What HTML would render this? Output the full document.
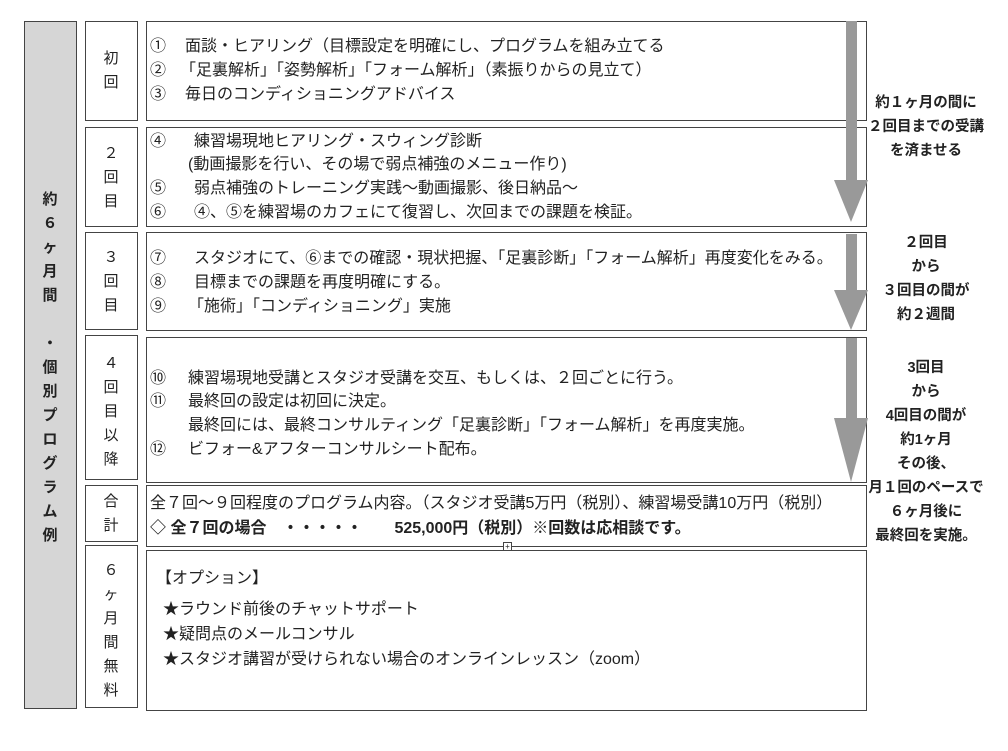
<!DOCTYPE html>
<html><head><meta charset="utf-8">
<style>
body{margin:0;width:1008px;height:751px;background:#fff;position:relative;overflow:hidden;font-family:"Liberation Sans","Noto Sans CJK JP",sans-serif;color:#222;}
.b{position:absolute;border:1px solid #444;box-sizing:border-box;background:#fff;}
.t{position:absolute;font-size:16px;white-space:nowrap;line-height:18px;}
.c{position:absolute;font-size:15px;text-align:center;width:52px;line-height:24px;}
.r{position:absolute;left:866px;width:120px;text-align:center;font-weight:bold;font-size:14.5px;line-height:24px;}
.bold{font-weight:bold;}
</style></head><body>
<div class="b" style="left:24px;top:21px;width:53px;height:688px;background:#d6d6d6;"></div>
<div class="c bold" style="left:24px;top:188px;line-height:24px;">約<br>６<br>ヶ<br>月<br>間<br><br>・<br>個<br>別<br>プ<br>ロ<br>グ<br>ラ<br>ム<br>例</div>

<div class="b" style="left:85px;top:21px;width:53px;height:100px;"></div>
<div class="c" style="left:85px;top:47px;">初<br>回</div>
<div class="b" style="left:85px;top:127px;width:53px;height:100px;"></div>
<div class="c" style="left:85px;top:142px;">２<br>回<br>目</div>
<div class="b" style="left:85px;top:232px;width:53px;height:98px;"></div>
<div class="c" style="left:85px;top:246px;">３<br>回<br>目</div>
<div class="b" style="left:85px;top:335px;width:53px;height:145px;"></div>
<div class="c" style="left:85px;top:352px;">４<br>回<br>目<br>以<br>降</div>
<div class="b" style="left:85px;top:485px;width:53px;height:57px;"></div>
<div class="c" style="left:85px;top:490px;">合<br>計</div>
<div class="b" style="left:85px;top:545px;width:53px;height:163px;"></div>
<div class="c" style="left:85px;top:559px;">６<br>ヶ<br>月<br>間<br>無<br>料</div>

<div class="b" style="left:146px;top:21px;width:721px;height:100px;"></div>
<div class="b" style="left:146px;top:127px;width:721px;height:100px;"></div>
<div class="b" style="left:146px;top:232px;width:721px;height:99px;"></div>
<div class="b" style="left:146px;top:337px;width:721px;height:146px;"></div>
<div class="b" style="left:146px;top:485px;width:721px;height:62px;"></div>
<div class="b" style="left:146px;top:550px;width:721px;height:161px;"></div>
<div style="position:absolute;left:503px;top:542px;width:7px;height:7px;border:1px solid #444;background:#fff;font-size:8px;line-height:7px;text-align:center;">+</div>

<div class="t" style="left:150px;top:38px;">①</div><div class="t" style="left:185px;top:38px;">面談・ヒアリング（目標設定を明確にし、プログラムを組み立てる</div>
<div class="t" style="left:150px;top:62px;">②</div><div class="t" style="left:180px;top:62px;">「足裏解析」「姿勢解析」「フォーム解析」（素振りからの見立て）</div>
<div class="t" style="left:150px;top:86px;">③</div><div class="t" style="left:185px;top:86px;">毎日のコンディショニングアドバイス</div>

<div class="t" style="left:150px;top:133px;">④</div><div class="t" style="left:194px;top:133px;">練習場現地ヒアリング・スウィング診断</div>
<div class="t" style="left:188px;top:156px;">(動画撮影を行い、その場で弱点補強のメニュー作り)</div>
<div class="t" style="left:150px;top:180px;">⑤</div><div class="t" style="left:194px;top:180px;">弱点補強のトレーニング実践〜動画撮影、後日納品〜</div>
<div class="t" style="left:150px;top:204px;">⑥</div><div class="t" style="left:194px;top:204px;">④、⑤を練習場のカフェにて復習し、次回までの課題を検証。</div>

<div class="t" style="left:150px;top:250px;">⑦</div><div class="t" style="left:194px;top:250px;">スタジオにて、⑥までの確認・現状把握、「足裏診断」「フォーム解析」再度変化をみる。</div>
<div class="t" style="left:150px;top:274px;">⑧</div><div class="t" style="left:194px;top:274px;">目標までの課題を再度明確にする。</div>
<div class="t" style="left:150px;top:298px;">⑨</div><div class="t" style="left:188px;top:298px;">「施術」「コンディショニング」実施</div>

<div class="t" style="left:150px;top:370px;">⑩</div><div class="t" style="left:188px;top:370px;">練習場現地受講とスタジオ受講を交互、もしくは、２回ごとに行う。</div>
<div class="t" style="left:150px;top:393px;">⑪</div><div class="t" style="left:188px;top:393px;">最終回の設定は初回に決定。</div>
<div class="t" style="left:188px;top:417px;">最終回には、最終コンサルティング「足裏診断」「フォーム解析」を再度実施。</div>
<div class="t" style="left:150px;top:441px;">⑫</div><div class="t" style="left:188px;top:441px;">ビフォー&amp;アフターコンサルシート配布。</div>

<div class="t" style="left:150px;top:495px;">全７回〜９回程度のプログラム内容。（スタジオ受講5万円（税別）、練習場受講10万円（税別）</div>
<div class="t bold" style="left:150px;top:520px;">◇ 全７回の場合　・・・・・　　525,000円（税別）※回数は応相談です。</div>

<div class="t" style="left:156px;top:570px;">【オプション】</div>
<div class="t" style="left:163px;top:601px;">★ラウンド前後のチャットサポート</div>
<div class="t" style="left:163px;top:626px;">★疑問点のメールコンサル</div>
<div class="t" style="left:163px;top:651px;">★スタジオ講習が受けられない場合のオンラインレッスン（zoom）</div>

<svg style="position:absolute;left:0;top:0" width="1008" height="751">
<g fill="#999">
<rect x="846" y="21" width="11" height="160"/><polygon points="834,180 868,180 851,222"/>
<rect x="846" y="234" width="11" height="58"/><polygon points="834,290 868,290 851,330"/>
<rect x="846" y="338" width="11" height="82"/><polygon points="834,418 868,418 851,482"/>
</g></svg>

<div class="r" style="top:91px;">約１ヶ月の間に<br>２回目までの受講<br>を済ませる</div>
<div class="r" style="top:231px;">２回目<br>から<br>３回目の間が<br>約２週間</div>
<div class="r" style="top:356px;">3回目<br>から<br>4回目の間が<br>約1ヶ月<br>その後、<br>月１回のペースで<br>６ヶ月後に<br>最終回を実施。</div>
</body></html>
